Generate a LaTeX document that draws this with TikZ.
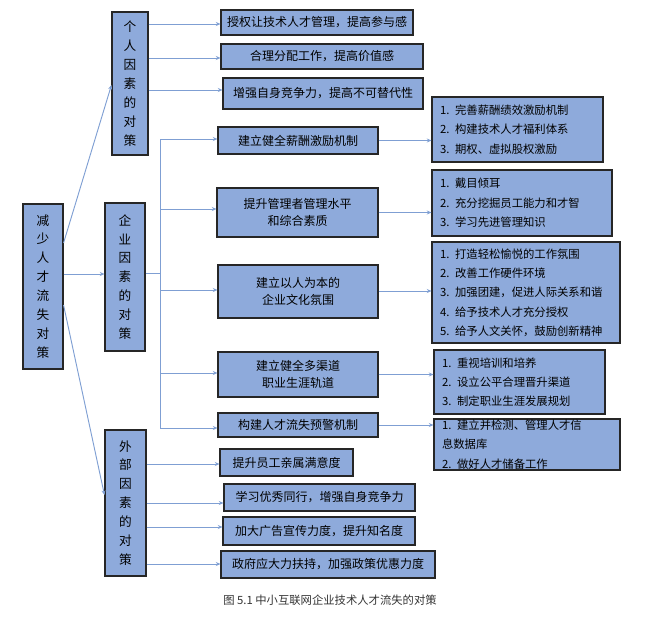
\documentclass[tikz,border=0pt]{standalone}
\usepackage{fontspec}
\setmainfont{Noto Sans CJK SC}
\usetikzlibrary{arrows.meta}
\definecolor{bfill}{HTML}{8EAADB}
\definecolor{lcol}{HTML}{7F9FD3}
\tikzset{
 bx/.style={draw=black!85,fill=bfill,line width=0.8pt,inner sep=0pt,font=\fontsize{9}{13}\selectfont,align=center},
 lst/.style={bx,align=left,font=\fontsize{8.5}{14.5}\selectfont},
 vert/.style={bx,font=\fontsize{9.5}{14.2}\selectfont},
 arr/.style={draw=lcol,line width=0.7pt,-{Stealth[length=3.5pt,width=3pt]}},
 ln/.style={draw=lcol,line width=0.7pt}
}
\newcommand\bx[7][bx]{\node[#1,minimum width={(#5-#3)*0.75pt},minimum height={(#6-#4)*0.75pt}] (#2) at ({(#3+#5)/2},{(#4+#6)/2}) {#7};}
\newcommand\lb[7][lst]{\node[#1,minimum width={(#5-#3)*0.75pt},minimum height={(#6-#4)*0.75pt},text width={(#5-#3-16)*0.75pt}] (#2) at ({(#3+#5)/2},{(#4+#6)/2}) {#7};}
\begin{document}
\begin{tikzpicture}[x=0.75pt,y=-0.75pt]
\useasboundingbox (0,0) rectangle (649,621);
% left column
\bx[vert]{root}{23}{204}{63}{369}{减\\少\\人\\才\\流\\失\\对\\策}
\bx[vert]{ge}{112}{12}{148}{155}{个\\人\\因\\素\\的\\对\\策}
\bx[vert]{qy}{105}{203}{145}{351}{企\\业\\因\\素\\的\\对\\策}
\bx[vert]{wb}{105}{430}{146}{576}{外\\部\\因\\素\\的\\对\\策}
% personal
\bx{g1}{221}{10}{413}{35}{授权让技术人才管理，提高参与感}
\bx{g2}{221}{44}{423}{69}{合理分配工作，提高价值感}
\bx{g3}{223}{78}{423}{109}{增强自身竞争力，提高不可替代性}
% enterprise
\bx{e1}{218}{127}{378}{154}{建立健全薪酬激励机制}
\bx{e2}{217}{188}{378}{237}{提升管理者管理水平\\和综合素质}
\bx{e3}{218}{265}{378}{318}{建立以人为本的\\企业文化氛围}
\bx{e4}{218}{352}{378}{397}{建立健全多渠道\\职业生涯轨道}
\bx{e5}{218}{413}{378}{437}{构建人才流失预警机制}
\lb{l1}{432}{97}{603}{162}{1. 完善薪酬绩效激励机制\\2. 构建技术人才福利体系\\3. 期权、虚拟股权激励}
\lb{l2}{432}{170}{612}{236}{1. 戴目倾耳\\2. 充分挖掘员工能力和才智\\3. 学习先进管理知识}
\lb{l3}{432}{242}{620}{343}{1. 打造轻松愉悦的工作氛围\\2. 改善工作硬件环境\\3. 加强团建，促进人际关系和谐\\4. 给予技术人才充分授权\\5. 给予人文关怀，鼓励创新精神}
\lb{l4}{434}{350}{605}{414}{1. 重视培训和培养\\2. 设立公平合理晋升渠道\\3. 制定职业生涯发展规划}
\lb{l5}{434}{419}{620}{470}{1. 建立并检测、管理人才信\\息数据库\\2. 做好人才储备工作}
% external
\bx{w1}{220}{449}{353}{476}{提升员工亲属满意度}
\bx{w2}{224}{484}{415}{511}{学习优秀同行，增强自身竞争力}
\bx{w3}{223}{517}{415}{545}{加大广告宣传力度，提升知名度}
\bx{w4}{221}{551}{435}{578}{政府应大力扶持，加强政策优惠力度}
% root arrows
\draw[arr] (root.east |- 0,243) -- (ge.west |- 0,85);
\draw[arr] (root.east |- 0,274) -- (qy.west |- 0,274);
\draw[arr] (root.east |- 0,305) -- (wb.west |- 0,495);
% personal arrows
\draw[arr] (ge.east |- 0,24) -- (g1.west |- 0,24);
\draw[arr] (ge.east |- 0,58) -- (g2.west |- 0,58);
\draw[arr] (ge.east |- 0,90) -- (g3.west |- 0,90);
% enterprise trunk
\coordinate (tt) at (160,139);
\coordinate (tb) at (160,428);
\draw[ln] (qy.east |- 0,273) -- (160,273);
\draw[ln] (tt) -- (tb);
\draw[arr] (tt) -- (e1.west |- tt);
\draw[arr] (160,209) -- (e2.west |- 0,209);
\draw[arr] (160,290) -- (e3.west |- 0,290);
\draw[arr] (160,373) -- (e4.west |- 0,373);
\draw[arr] (tb) -- (e5.west |- tb);
\draw[arr] (e1.east) -- (l1.west |- e1.east);
\draw[arr] (e2.east) -- (l2.west |- e2.east);
\draw[arr] (e3.east |- 0,291) -- (l3.west |- 0,291);
\draw[arr] (e4.east) -- (l4.west |- e4.east);
\draw[arr] (e5.east) -- (l5.west |- e5.east);
% external arrows
\draw[arr] (wb.east |- 0,464) -- (w1.west |- 0,464);
\draw[arr] (wb.east |- 0,503) -- (w2.west |- 0,503);
\draw[arr] (wb.east |- 0,527) -- (w3.west |- 0,527);
\draw[arr] (wb.east |- 0,564) -- (w4.west |- 0,564);
\node[font=\fontsize{8.5}{10}\selectfont,text=black!80] (cap) at (330,600) {图 5.1 中小互联网企业技术人才流失的对策};
\end{tikzpicture}
\end{document}
